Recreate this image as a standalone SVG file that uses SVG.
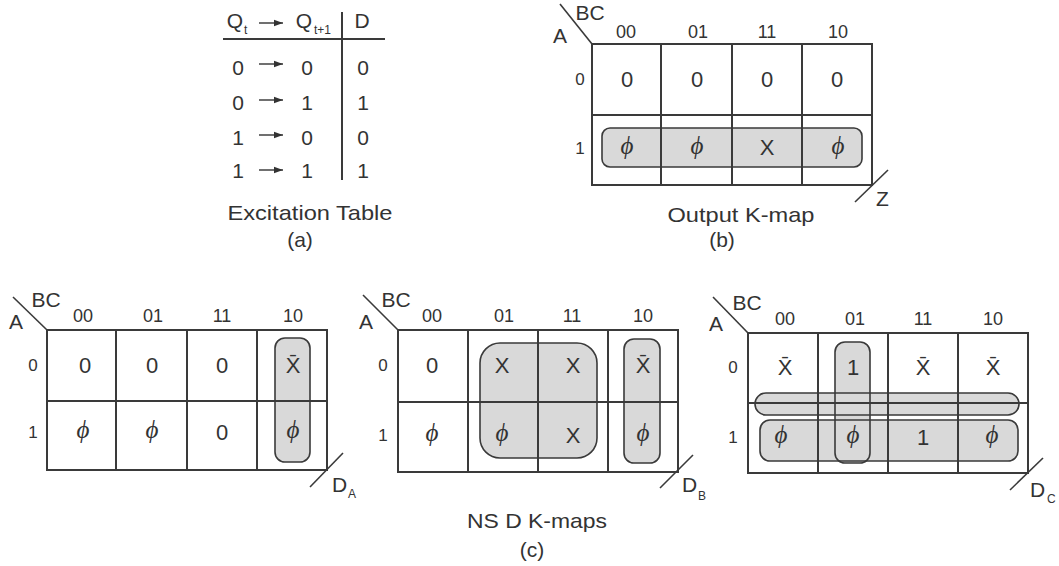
<svg xmlns="http://www.w3.org/2000/svg" width="1059" height="566" viewBox="0 0 1059 566">
<defs>
<marker id="ah" markerWidth="10" markerHeight="8" refX="9" refY="4" orient="auto" markerUnits="userSpaceOnUse">
<path d="M0,0.8 L9,4 L0,7.2 Z" fill="#333333"/>
</marker>
</defs>
<style>
.bg{fill:#ffffff}
.grid{fill:none;stroke:#3a3a3a;stroke-width:2}
.ln{stroke:#3a3a3a;stroke-width:2;fill:none}
.thin{stroke:#3a3a3a;stroke-width:1.6;fill:none}
.arr{stroke:#333333;stroke-width:1.4;fill:none;marker-end:url(#ah)}
.lf{fill:#d9d9d9;stroke:none}
.lo{fill:none;stroke:#3a3a3a;stroke-width:1.6}
text{font-family:"Liberation Sans",Arial,sans-serif;fill:#333333;text-anchor:middle}
.v{font-size:22px}
.h{font-size:18px}
.r{font-size:17px}
.lab{font-size:21px}
.cap{font-size:21px}
.sub{font-size:12px;text-anchor:start}
.st{text-anchor:start}
.phi{font-family:"Liberation Serif","DejaVu Serif",serif;font-style:italic;font-size:25px}
</style>
<rect class="bg" x="0" y="0" width="1059" height="566"/>

<g id="excitation-table">
  <text class="lab" x="235" y="28">Q</text>
  <text class="sub" x="244" y="34">t</text>
  <line class="arr" x1="259" y1="23" x2="283" y2="23"/>
  <text class="lab" x="304" y="28">Q</text>
  <text class="sub" x="314" y="34">t+1</text>
  <text class="lab" x="362" y="28">D</text>
  <line class="ln" x1="223" y1="39" x2="385" y2="39"/>
  <line class="ln" x1="342" y1="12" x2="342" y2="180"/>
  <text class="lab" x="238" y="75">0</text><line class="arr" x1="259" y1="64" x2="283" y2="64"/><text class="lab" x="307" y="75">0</text><text class="lab" x="363" y="75">0</text>
  <text class="lab" x="238" y="110">0</text><line class="arr" x1="259" y1="100" x2="283" y2="100"/><text class="lab" x="307" y="110">1</text><text class="lab" x="363" y="110">1</text>
  <text class="lab" x="238" y="145">1</text><line class="arr" x1="259" y1="135" x2="283" y2="135"/><text class="lab" x="307" y="145">0</text><text class="lab" x="363" y="145">0</text>
  <text class="lab" x="238" y="178">1</text><line class="arr" x1="259" y1="170" x2="283" y2="170"/><text class="lab" x="307" y="178">1</text><text class="lab" x="363" y="178">1</text>
  <text class="cap" x="310" y="220" textLength="165" lengthAdjust="spacingAndGlyphs">Excitation Table</text>
  <text class="cap" x="300" y="247">(a)</text>
</g>

<g id="kmap-z">
  <rect class="lf" x="602" y="128" width="260" height="39" rx="8"/>
  <rect class="grid" x="592" y="44" width="280" height="141"/>
  <line class="ln" x1="661" y1="44" x2="661" y2="185"/>
  <line class="ln" x1="732" y1="44" x2="732" y2="185"/>
  <line class="ln" x1="802" y1="44" x2="802" y2="185"/>
  <line class="ln" x1="592" y1="115" x2="872" y2="115"/>
  <rect class="lo" x="602" y="128" width="260" height="39" rx="8"/>
  <line class="thin" x1="560" y1="4" x2="592" y2="44"/>
  <text class="lab" x="590" y="20">BC</text>
  <text class="lab" x="560" y="43">A</text>
  <text class="h" x="626" y="38">00</text><text class="h" x="698" y="38">01</text><text class="h" x="767" y="38">11</text><text class="h" x="838" y="38">10</text>
  <text class="r" x="580" y="85">0</text><text class="r" x="580" y="154">1</text>
  <text class="v" x="627" y="87">0</text><text class="v" x="697" y="87">0</text><text class="v" x="767" y="87">0</text><text class="v" x="837" y="87">0</text>
  <text class="phi" x="627" y="154">ϕ</text><text class="phi" x="697" y="154">ϕ</text><text class="v" x="767" y="155">X</text><text class="phi" x="838" y="154">ϕ</text>
  <line class="thin" x1="855" y1="202" x2="888" y2="170"/>
  <text class="lab st" x="876" y="206">Z</text>
  <text class="cap" x="741" y="222" textLength="147" lengthAdjust="spacingAndGlyphs">Output K-map</text>
  <text class="cap" x="722" y="247">(b)</text>
</g>

<g id="kmap-da">
  <rect class="lf" x="275" y="338" width="35" height="124" rx="10"/>
  <rect class="grid" x="47" y="330" width="280" height="140"/>
  <line class="ln" x1="116" y1="330" x2="116" y2="470"/>
  <line class="ln" x1="187" y1="330" x2="187" y2="470"/>
  <line class="ln" x1="257" y1="330" x2="257" y2="470"/>
  <line class="ln" x1="47" y1="401" x2="327" y2="401"/>
  <rect class="lo" x="275" y="338" width="35" height="124" rx="10"/>
  <line class="thin" x1="13" y1="297" x2="47" y2="330"/>
  <text class="lab" x="46" y="307">BC</text>
  <text class="lab" x="16" y="329">A</text>
  <text class="h" x="83" y="322">00</text><text class="h" x="153" y="322">01</text><text class="h" x="222" y="322">11</text><text class="h" x="293" y="322">10</text>
  <text class="r" x="33" y="371">0</text><text class="r" x="33" y="438">1</text>
  <text class="v" x="85" y="373">0</text><text class="v" x="152" y="373">0</text><text class="v" x="222" y="373">0</text><text class="v" x="293" y="373">X̄</text>
  <text class="phi" x="83" y="438">ϕ</text><text class="phi" x="152" y="438">ϕ</text><text class="v" x="222" y="440">0</text><text class="phi" x="293" y="438">ϕ</text>
  <line class="thin" x1="310" y1="487" x2="343" y2="453"/>
  <text class="lab st" x="332" y="492">D</text><text class="sub" x="348" y="498">A</text>
</g>

<g id="kmap-db">
  <rect class="lf" x="480" y="343" width="117" height="115" rx="20"/>
  <rect class="lf" x="624" y="339" width="36" height="124" rx="10"/>
  <rect class="grid" x="398" y="330" width="280" height="142"/>
  <line class="ln" x1="468" y1="330" x2="468" y2="472"/>
  <line class="ln" x1="538" y1="330" x2="538" y2="472"/>
  <line class="ln" x1="608" y1="330" x2="608" y2="472"/>
  <line class="ln" x1="398" y1="402" x2="678" y2="402"/>
  <rect class="lo" x="480" y="343" width="117" height="115" rx="20"/>
  <rect class="lo" x="624" y="339" width="36" height="124" rx="10"/>
  <line class="thin" x1="363" y1="295" x2="398" y2="330"/>
  <text class="lab" x="396" y="307">BC</text>
  <text class="lab" x="366" y="329">A</text>
  <text class="h" x="432" y="322">00</text><text class="h" x="504" y="322">01</text><text class="h" x="572" y="322">11</text><text class="h" x="643" y="322">10</text>
  <text class="r" x="383" y="371">0</text><text class="r" x="383" y="441">1</text>
  <text class="v" x="432" y="373">0</text><text class="v" x="502" y="373">X</text><text class="v" x="573" y="373">X</text><text class="v" x="643" y="373">X̄</text>
  <text class="phi" x="432" y="441">ϕ</text><text class="phi" x="502" y="441">ϕ</text><text class="v" x="573" y="443">X</text><text class="phi" x="643" y="441">ϕ</text>
  <line class="thin" x1="660" y1="488" x2="693" y2="455"/>
  <text class="lab st" x="682" y="492">D</text><text class="sub" x="698" y="500">B</text>
</g>

<g id="kmap-dc">
  <rect class="lf" x="835" y="342" width="35" height="121" rx="10"/>
  <rect class="lf" x="755" y="393" width="264" height="22" rx="11"/>
  <rect class="lf" x="760" y="420" width="258" height="41" rx="10"/>
  <rect class="grid" x="748" y="333" width="280" height="140"/>
  <line class="ln" x1="818" y1="333" x2="818" y2="473"/>
  <line class="ln" x1="888" y1="333" x2="888" y2="473"/>
  <line class="ln" x1="958" y1="333" x2="958" y2="473"/>
  <line class="ln" x1="748" y1="403" x2="1028" y2="403"/>
  <rect class="lo" x="835" y="342" width="35" height="121" rx="10"/>
  <rect class="lo" x="755" y="393" width="264" height="22" rx="11"/>
  <rect class="lo" x="760" y="420" width="258" height="41" rx="10"/>
  <line class="thin" x1="713" y1="297" x2="748" y2="333"/>
  <text class="lab" x="747" y="310">BC</text>
  <text class="lab" x="716" y="331">A</text>
  <text class="h" x="785" y="325">00</text><text class="h" x="855" y="325">01</text><text class="h" x="923" y="325">11</text><text class="h" x="993" y="325">10</text>
  <text class="r" x="733" y="373">0</text><text class="r" x="733" y="443">1</text>
  <text class="v" x="785" y="375">X̄</text><text class="v" x="853" y="375">1</text><text class="v" x="923" y="375">X̄</text><text class="v" x="993" y="375">X̄</text>
  <text class="phi" x="781" y="443">ϕ</text><text class="phi" x="853" y="443">ϕ</text><text class="v" x="923" y="445">1</text><text class="phi" x="992" y="443">ϕ</text>
  <line class="thin" x1="1010" y1="490" x2="1043" y2="458"/>
  <text class="lab st" x="1030" y="497">D</text><text class="sub" x="1047" y="503">C</text>
</g>

<g id="captions-c">
  <text class="cap" x="537" y="528" textLength="140" lengthAdjust="spacingAndGlyphs">NS D K-maps</text>
  <text class="cap" x="532" y="557">(c)</text>
</g>
</svg>
